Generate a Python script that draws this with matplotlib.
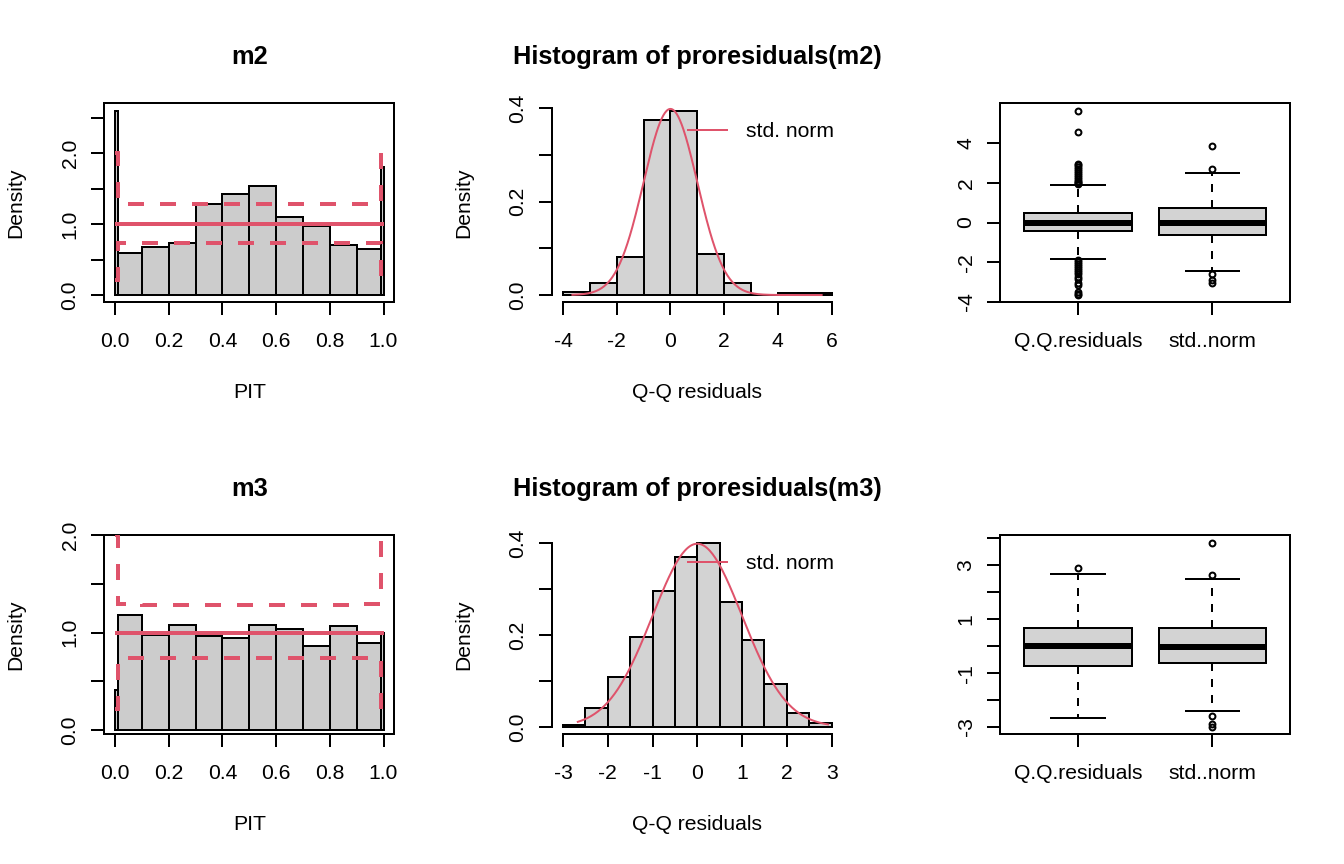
import numpy as np
import matplotlib
matplotlib.use("Agg")
import matplotlib.pyplot as plt

plt.rcParams["font.family"] = ["Liberation Sans", "DejaVu Sans"]
plt.rcParams["axes.unicode_minus"] = False

# ---------------- data ----------------
pit_breaks = [0.0, 0.01, 0.1, 0.2, 0.3, 0.4, 0.5, 0.6, 0.7, 0.8, 0.9, 0.99, 1.0]
pit_m2 = [2.60, 0.60, 0.68, 0.74, 1.28, 1.42, 1.54, 1.10, 0.97, 0.70, 0.645, 1.80]
ci_up_m2 = [2.0, 1.29, 1.29, 1.29, 1.29, 1.29, 1.29, 1.29, 1.29, 1.29, 1.29, 2.0]
ci_lo_m2 = [0.21, 0.73, 0.73, 0.73, 0.73, 0.73, 0.73, 0.73, 0.73, 0.73, 0.73, 0.21]
pit_m3 = [0.41, 1.18, 0.98, 1.08, 0.96, 0.94, 1.08, 1.04, 0.86, 1.065, 0.89, 1.0]
ci_up_m3 = [2.0, 1.293, 1.283, 1.283, 1.283, 1.283, 1.283, 1.283, 1.283, 1.283, 1.293, 2.0]
ci_lo_m3 = [0.21, 0.74, 0.74, 0.74, 0.74, 0.74, 0.74, 0.74, 0.74, 0.74, 0.74, 0.21]

res_breaks_m2 = [-4, -3, -2, -1, 0, 1, 2, 3, 4, 5, 6]
res_dens_m2 = [0.006, 0.026, 0.0807, 0.376, 0.395, 0.0871, 0.025, 0.0, 0.0033, 0.0033]
res_range_m2 = [-3.65, 5.63]

res_breaks_m3 = [-3.0, -2.5, -2.0, -1.5, -1.0, -0.5, 0.0, 0.5, 1.0, 1.5, 2.0, 2.5, 3.0]
res_dens_m3 = [0.0036, 0.0406, 0.109, 0.197, 0.297, 0.369, 0.401, 0.273, 0.189, 0.0935, 0.0297, 0.0087]
res_range_m3 = [-2.67, 2.92]

box_labels = ["Q.Q.residuals", "std..norm"]
# m2 boxplots: median, q1, q3, lower whisker, upper whisker, outliers
bx_m2_qq = dict(med=0.0, q1=-0.45, q3=0.47, whislo=-1.82, whishi=1.87,
                fliers=[1.95, 2.0, 2.05, 2.1, 2.2, 2.3, 2.4, 2.5, 2.6, 2.7, 2.8, 2.9, 2.95,
                        4.55, 5.63, -1.9, -2.0, -2.1, -2.2, -2.3, -2.4, -2.5, -2.6,
                        -2.75, -2.85, -3.05, -3.15, -3.5, -3.6, -3.65])
bx_m2_sn = dict(med=-0.03, q1=-0.64, q3=0.71, whislo=-2.42, whishi=2.51,
                fliers=[3.84, 2.69, -2.59, -2.9, -3.03])
bx_m3_qq = dict(med=-0.01, q1=-0.73, q3=0.66, whislo=-2.67, whishi=2.69,
                fliers=[2.92])
bx_m3_sn = dict(med=-0.04, q1=-0.63, q3=0.68, whislo=-2.40, whishi=2.51,
                fliers=[3.84, 2.66, -2.59, -2.9, -3.0])

# ---------------- style ----------------
RED = "#DF536B"
W, H = 1344, 864
FS = 7.92
TFS = 9.5
LW = 0.75
TL = 4.76

fig = plt.figure(figsize=(7, 4.5), dpi=192)


def make_ax(col, row):
    left = 104.3 + 448 * col
    top = 103.4 + 432 * row
    w, h = 290, 199
    return fig.add_axes([left / W, 1 - (top + h) / H, w / W, h / H])


def rpad(lo, hi):
    d = (hi - lo) * 0.04
    return lo - d, hi + d


def style(ax, box=True):
    for s in ax.spines.values():
        s.set_linewidth(LW)
    if not box:
        ax.spines["top"].set_visible(False)
        ax.spines["right"].set_visible(False)
    ax.tick_params(direction="out", length=TL, width=LW, labelsize=FS)
    ax.tick_params(axis="x", pad=6.5)
    ax.tick_params(axis="y", pad=4.5)


def labels(ax, xl, yl):
    if xl:
        ax.set_xlabel(xl, fontsize=FS, va="top")
        ax.xaxis.set_label_coords(0.5, -80.5 / 199)
    if yl:
        ax.set_ylabel(yl, fontsize=FS, va="center")
        ax.yaxis.set_label_coords(-88.4 / 290, 0.5)


def pit_panel(ax, vals, up, lo, title, yticks):
    b = np.array(pit_breaks)
    ax.bar(b[:-1], vals, width=np.diff(b), align="edge", color="#CCCCCC",
           edgecolor="black", linewidth=LW, zorder=2)
    ax.hlines(1.0, b[0], b[-1], color=RED, linewidth=1.5, zorder=3)
    ax.stairs(up, b, baseline=None, color=RED, linewidth=1.5, linestyle=(0, (4, 4)), zorder=3)
    ax.stairs(lo, b, baseline=None, color=RED, linewidth=1.5, linestyle=(0, (4, 4)), zorder=3)
    ax.set_xlim(*rpad(0, 1))
    ax.set_ylim(*rpad(0, max(vals)))
    style(ax)
    ax.set_xticks([0, 0.2, 0.4, 0.6, 0.8, 1.0], ["0.0", "0.2", "0.4", "0.6", "0.8", "1.0"])
    ax.set_yticks(yticks, [("%.1f" % t if abs(t - round(t)) < 1e-9 else "") for t in yticks],
                  rotation=90, va="center")
    ax.set_title(title, fontsize=TFS, fontweight="bold", pad=14.8)
    labels(ax, "PIT", "Density")


def res_panel(ax, breaks, dens, rng, title, xticks):
    b = np.array(breaks)
    ax.bar(b[:-1], dens, width=np.diff(b), align="edge", color="#D3D3D3",
           edgecolor="black", linewidth=LW, zorder=2)
    x = np.linspace(rng[0], rng[1], 300)
    y = np.exp(-x ** 2 / 2) / np.sqrt(2 * np.pi)
    line, = ax.plot(x, y, color=RED, linewidth=LW, zorder=3)
    ax.set_xlim(*rpad(b[0], b[-1]))
    ax.set_ylim(*rpad(0, max(dens)))
    style(ax, box=False)
    ax.set_xticks(xticks, [str(t) for t in xticks])
    yt = [0.0, 0.1, 0.2, 0.3, 0.4]
    ax.set_yticks(yt, ["0.0", "", "0.2", "", "0.4"], rotation=90, va="center")
    ax.spines["left"].set_bounds(0, 0.4)
    ax.spines["bottom"].set_bounds(xticks[0], xticks[-1])
    ax.set_title(title, fontsize=TFS, fontweight="bold", pad=14.8)
    labels(ax, "Q-Q residuals", "Density")
    ax.legend([line], ["std. norm"], loc="center left",
              bbox_to_anchor=((688 - 552.3) / 290, 1 - 28.4 / 199),
              frameon=False, borderpad=0, borderaxespad=0, fontsize=FS,
              handlelength=39 / 21.1, handletextpad=19 / 21.1)


def box_panel(ax, s1, s2, yticks, ylabels):
    stats = [dict(s1, label=box_labels[0]), dict(s2, label=box_labels[1])]
    ax.bxp(stats, positions=[1, 2], widths=0.8, patch_artist=True,
           boxprops=dict(facecolor="#D3D3D3", edgecolor="black", linewidth=LW),
           medianprops=dict(color="black", linewidth=2.25, solid_capstyle="butt"),
           whiskerprops=dict(color="black", linewidth=LW, linestyle=(0, (4, 4))),
           capprops=dict(color="black", linewidth=LW),
           flierprops=dict(marker="o", markerfacecolor="none", markeredgecolor="black",
                           markersize=2.2, markeredgewidth=LW, linestyle="none"))
    allv = [s1["whislo"], s1["whishi"], s2["whislo"], s2["whishi"]] + s1["fliers"] + s2["fliers"]
    ax.set_xlim(*rpad(0.5, 2.5))
    ax.set_ylim(*rpad(min(allv), max(allv)))
    style(ax)
    ax.set_xticks([1, 2], box_labels)
    ax.set_yticks(yticks, ylabels, rotation=90, va="center")


ax = make_ax(0, 0)
pit_panel(ax, pit_m2, ci_up_m2, ci_lo_m2, "m2", [0, 0.5, 1.0, 1.5, 2.0, 2.5])
ax = make_ax(1, 0)
res_panel(ax, res_breaks_m2, res_dens_m2, res_range_m2, "Histogram of proresiduals(m2)",
          [-4, -2, 0, 2, 4, 6])
ax = make_ax(2, 0)
box_panel(ax, bx_m2_qq, bx_m2_sn, [-4, -2, 0, 2, 4], ["-4", "-2", "0", "2", "4"])

ax = make_ax(0, 1)
pit_panel(ax, pit_m3, ci_up_m3, ci_lo_m3, "m3", [0, 0.5, 1.0, 1.5, 2.0])
ax = make_ax(1, 1)
res_panel(ax, res_breaks_m3, res_dens_m3, res_range_m3, "Histogram of proresiduals(m3)",
          [-3, -2, -1, 0, 1, 2, 3])
ax = make_ax(2, 1)
box_panel(ax, bx_m3_qq, bx_m3_sn, [-3, -2, -1, 0, 1, 2, 3, 4],
          ["-3", "", "-1", "", "1", "", "3", ""])

fig.savefig("out.png", dpi=192)
